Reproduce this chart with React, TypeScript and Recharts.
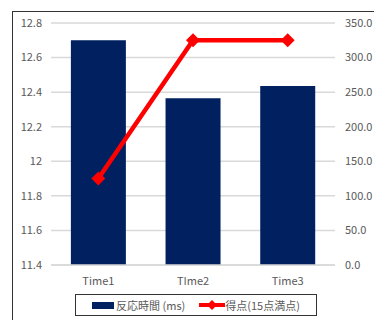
import { ComposedChart, Bar, Line, XAxis, YAxis, CartesianGrid } from 'recharts'

const CATEGORIES = ['Time1', 'TIme2', 'Time3']
const REACTION_MS = [12.7, 12.365, 12.435]
const SCORE = [125, 325, 325]
const LEFT_TICKS = [11.4, 11.6, 11.8, 12, 12.2, 12.4, 12.6, 12.8]
const RIGHT_TICKS = [0, 50, 100, 150, 200, 250, 300, 350]

const NAVY = '#002060'
const RED = '#ff0000'
const GREY_TEXT = '#595959'
const FONT = '"Noto Sans CJK JP", "Noto Sans", sans-serif'

const data = CATEGORIES.map((name, i) => ({ name, ms: REACTION_MS[i], score: SCORE[i] }))

const Diamond = (props: any) => {
  const { cx, cy } = props
  if (cx == null || cy == null) return null
  const r = 7
  return <path d={`M${cx},${cy - r}L${cx + r},${cy}L${cx},${cy + r}L${cx - r},${cy}Z`} fill={RED} />
}

const LegendBox = () => (
  <div
    style={{
      position: 'absolute',
      left: 75,
      top: 294,
      width: 242,
      height: 22,
      border: '1px solid #333',
      display: 'flex',
      alignItems: 'center',
      justifyContent: 'center',
      fontFamily: FONT,
      fontSize: 11,
      color: GREY_TEXT,
      boxSizing: 'border-box',
    }}
  >
    <span style={{ display: 'inline-block', width: 22, height: 7, background: NAVY, marginRight: 2 }} />
    <span>反応時間 (ms)</span>
    <svg width={26} height={12} style={{ marginLeft: 14 }}>
      <line x1={0} y1={6} x2={26} y2={6} stroke={RED} strokeWidth={4} />
      <path d="M13,1L18,6L13,11L8,6Z" fill={RED} />
    </svg>
    <span>得点(15点満点)</span>
  </div>
)

export default function App() {
  return (
    <div style={{ position: 'absolute', left: 0, top: 0, width: 374, height: 320, overflow: 'hidden', background: '#fff' }}>
      <div
        style={{
          position: 'absolute',
          left: 12,
          top: 11,
          width: 400,
          height: 340,
          border: '1px solid #333',
        }}
      />
      <ComposedChart
        width={374}
        height={320}
        data={data}
        margin={{ top: 23, right: 0, bottom: 25, left: 0 }}
        barCategoryGap="21%"
        style={{ position: 'absolute', left: 0, top: 0, fontFamily: FONT }}
      >
        <CartesianGrid vertical={false} stroke="#d9d9d9" strokeWidth={1.5} yAxisId="left" />
        <XAxis
          dataKey="name"
          tickLine={false}
          axisLine={{ stroke: '#d9d9d9', strokeWidth: 1.5 }}
          tick={{ fontSize: 11, fill: GREY_TEXT }}
          tickMargin={6}
        />
        <YAxis
          yAxisId="left"
          orientation="left"
          width={51}
          domain={[11.4, 12.8]}
          ticks={LEFT_TICKS}
          tickLine={false}
          axisLine={false}
          tickSize={0}
          tickMargin={9}
          tick={{ fontSize: 11, fill: GREY_TEXT }}
        />
        <YAxis
          yAxisId="right"
          orientation="right"
          width={39}
          domain={[0, 350]}
          ticks={RIGHT_TICKS}
          tickFormatter={(v: number) => v.toFixed(1)}
          tickLine={false}
          axisLine={false}
          tickSize={0}
          tickMargin={10}
          tick={{ fontSize: 11, fill: GREY_TEXT, textAnchor: 'start' }}
        />
        <Bar yAxisId="left" dataKey="ms" fill={NAVY} isAnimationActive={false} />
        <Line
          yAxisId="right"
          dataKey="score"
          stroke={RED}
          strokeWidth={4.5}
          dot={<Diamond />}
          activeDot={false}
          type="linear"
          isAnimationActive={false}
        />
      </ComposedChart>
      <LegendBox />
    </div>
  )
}
